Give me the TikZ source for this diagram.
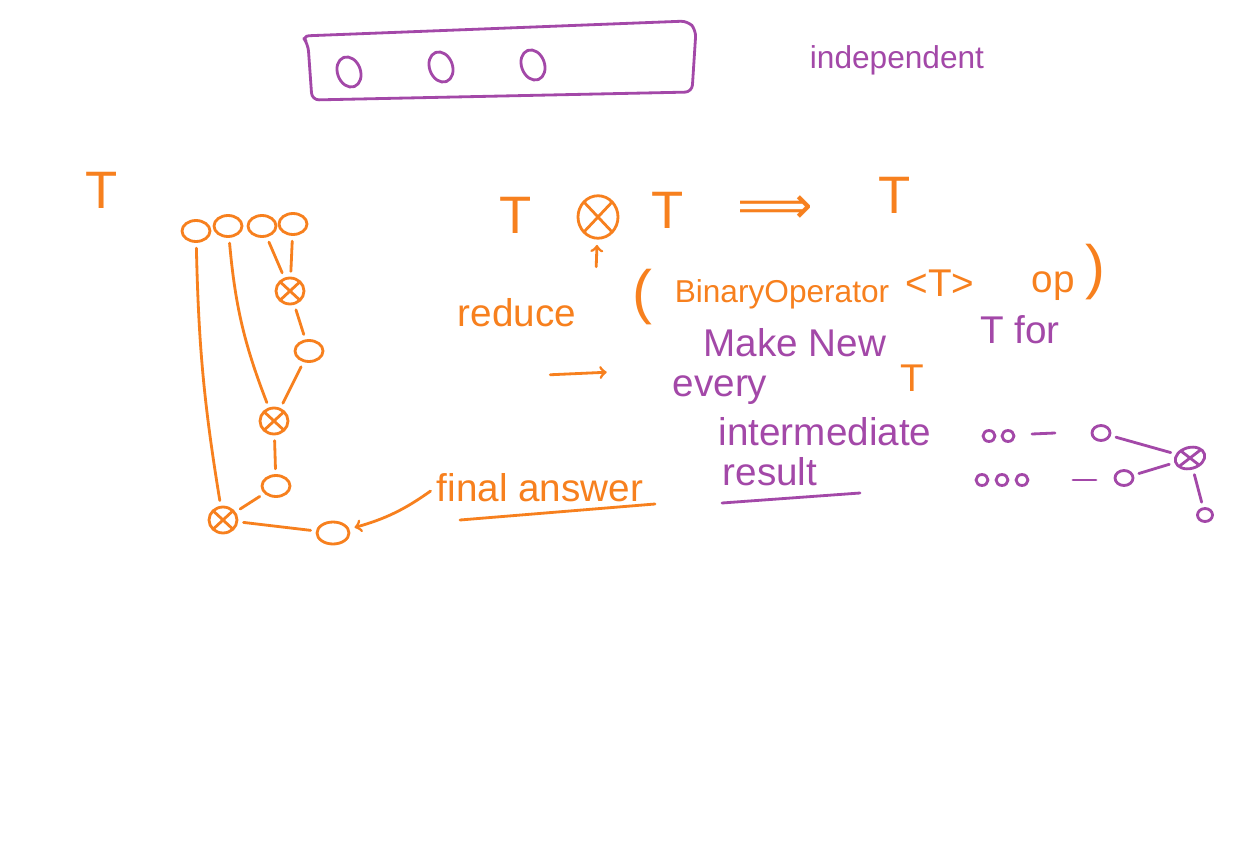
\documentclass[tikz,border=0pt]{standalone}
\usepackage{fontspec}
\setmainfont{Liberation Sans}
\newfontfamily\symfont{DejaVu Sans}
\usetikzlibrary{shapes.geometric,arrows}

\definecolor{penorange}{RGB}{247,128,30}
\definecolor{penpurple}{RGB}{163,72,168}

\begin{document}
\begin{tikzpicture}[x=0.02cm,y=-0.02cm,
	pen/.style={line width=1.6pt,line cap=round,line join=round},
	ocon/.style={draw=penorange,pen,shorten <=3pt,shorten >=3pt},
	pcon/.style={draw=penpurple,pen,shorten <=3pt,shorten >=3pt},
	onode/.style={ellipse,draw=penorange,pen,minimum width=0.56cm,minimum height=0.42cm,inner sep=0pt},
	opnode/.style={onode,minimum height=0.52cm,
		path picture={\draw[penorange,pen] (path picture bounding box.north west) -- (path picture bounding box.south east)
			(path picture bounding box.north east) -- (path picture bounding box.south west);}},
	pitem/.style={ellipse,draw=penpurple,pen,minimum width=0.46cm,minimum height=0.62cm,inner sep=0pt,rotate=20},
	pdot/.style={ellipse,draw=penpurple,pen,minimum width=0.24cm,minimum height=0.22cm,inner sep=0pt},
	popnode/.style={ellipse,draw=penpurple,pen,minimum width=0.6cm,minimum height=0.42cm,inner sep=0pt,rotate=15,
		path picture={\draw[penpurple,pen] (path picture bounding box.north west) -- (path picture bounding box.south east)
			(path picture bounding box.north east) -- (path picture bounding box.south west);}},
	otext/.style={text=penorange,font=\fontsize{22}{26}\selectfont,inner sep=1pt},
	oparen/.style={text=penorange,font=\fontsize{34}{38}\selectfont,inner sep=1pt},
	tT/.style={text=penorange,font=\fontsize{30}{32}\selectfont,inner sep=1pt},
	ptext/.style={text=penpurple,font=\fontsize{22}{26}\selectfont,inner sep=1pt}]

\useasboundingbox[fill=white] (0,0) rectangle (1254,841);

% independent elements
\draw[penpurple,pen,rounded corners=4pt] (302,36) -- (688,21) -- (696,30) -- (692,92) -- (312,100) -- (308,44) -- cycle;
\foreach \x/\y [count=\i] in {349/72,441/67,533/65}
	\node[pitem] (item\i) at (\x,\y) {};
\node[ptext,font=\fontsize{18}{20}\selectfont] (indep) at (897,60) {independent};

% reduction tree
\node[tT] (tleft) at (102,190) {T};
\foreach \x/\y [count=\i] in {196/231,228/226,262/226,293/224}
	\node[onode] (leaf\i) at (\x,\y) {};
\node[opnode] (op1) at (290,291) {};
\node[onode] (r1) at (309,351) {};
\node[opnode] (op2) at (274,421) {};
\node[onode] (r2) at (276,486) {};
\node[opnode] (op3) at (223,520) {};
\node[onode,minimum width=0.64cm,minimum height=0.44cm] (res) at (333,533) {};
\path[ocon]
	(leaf3) edge (op1)
	(leaf4) edge (op1)
	(op1) edge (r1)
	(r1) edge (op2)
	(op2) edge[bend left=8] (leaf2)
	(op2) edge (r2)
	(r2) edge (op3)
	(op3) edge[bend left=4] (leaf1)
	(op3) edge (res);

\node[otext] (final) at (540,488) {final answer};
\draw[penorange,pen] (460,520) -- (655,504);
\draw[ocon,->] (final.west) to[bend left=10] (res);

% binary operator
\node[tT] (ta) at (516,215) {T};
\node[opnode,minimum width=0.8cm,minimum height=0.85cm] (otimes) at (598,217) {};
\node[tT] (tb) at (668,210) {T};
\node[otext,font=\symfont\fontsize{30}{32}\selectfont] (imp) at (775,210) {⟹};
\node[tT] (tc) at (895,195) {T};
\coordinate (upfoot) at (596,272);
\draw[ocon,->] (upfoot) -- (otimes);

\node[otext] (reduce) at (517,313) {reduce};
\node[oparen] (lp) at (642,297) {(};
\node[otext,font=\fontsize{18}{22}\selectfont] (binop) at (782,294) {BinaryOperator};
\node[otext] (tparam) at (940,283) {<T>};
\node[otext] (opname) at (1053,286) {op};
\node[oparen] (rp) at (1095,272) {)};

\coordinate (ra) at (545,375);
\coordinate (rb) at (612,372);
\draw[ocon,->] (ra) -- (rb);
\node[otext] (tsmall) at (912,378) {T};

% new T per step
\node[ptext] (make) at (795,343) {Make New};
\node[ptext] (tfor) at (1020,330) {T for};
\node[ptext] (every) at (720,390) {every};
\node[ptext] (inter) at (825,432) {intermediate};
\node[ptext] (result) at (770,472) {result};
\draw[penpurple,pen] (722,503) -- (860,493);

\foreach \x [count=\i] in {989,1008}
	\node[pdot] (a\i) at (\x,436) {};
\draw[penpurple,pen] (1032,434) -- (1055,433);
\node[pdot,minimum width=0.36cm,minimum height=0.3cm] (a3) at (1101,433) {};
\foreach \x [count=\i] in {982,1002,1022}
	\node[pdot] (b\i) at (\x,480) {};
\draw[penpurple,pen] (1073,480) -- (1096,480);
\node[pdot,minimum width=0.36cm,minimum height=0.3cm] (b4) at (1124,478) {};
\node[popnode] (pop) at (1190,458) {};
\node[pdot,minimum width=0.3cm,minimum height=0.26cm] (pres) at (1205,515) {};
\path[pcon]
	(a3) edge (pop)
	(b4) edge (pop)
	(pop) edge (pres);
\end{tikzpicture}
\end{document}
